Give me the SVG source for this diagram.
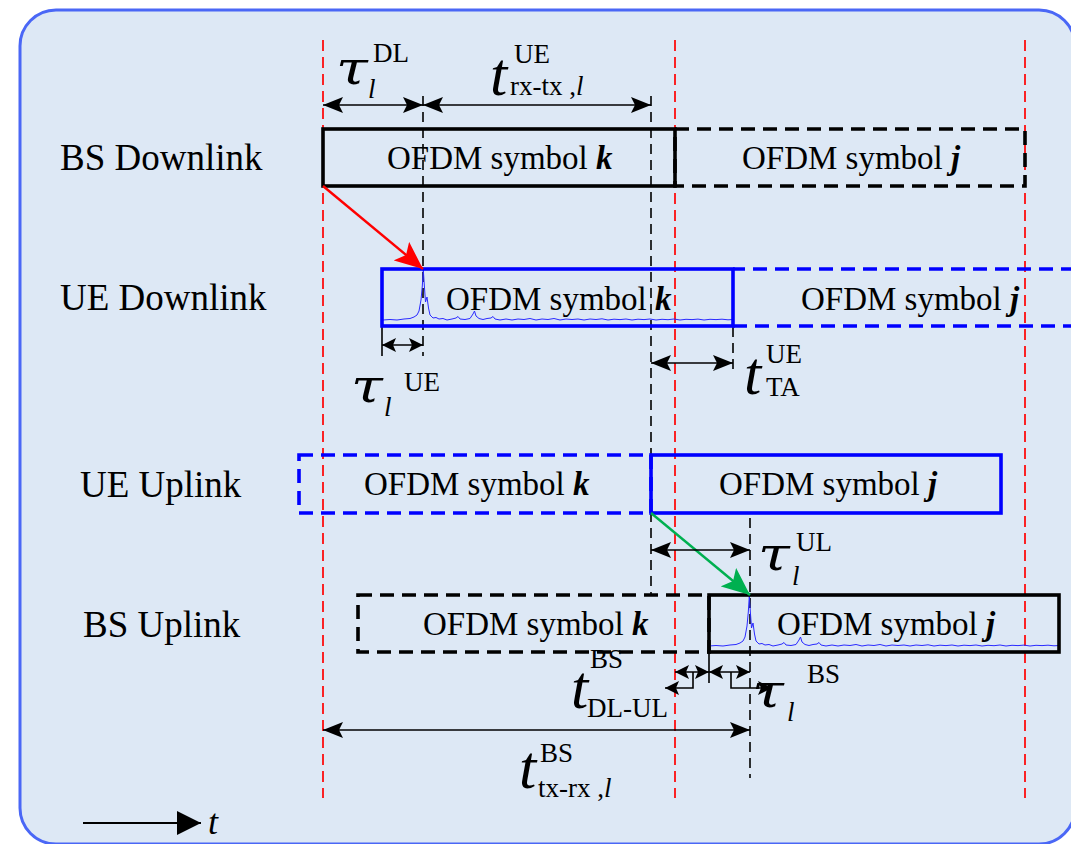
<svg xmlns="http://www.w3.org/2000/svg" width="1071" height="844" viewBox="0 0 1071 844">
<style>
.lbl{font-family:"Liberation Serif","Times New Roman",serif;font-size:37px;fill:#000}
.sym{font-family:"Liberation Serif","Times New Roman",serif;font-size:33px;fill:#000}
.bi{font-weight:bold;font-style:italic}
.m{font-family:"Liberation Serif","Times New Roman",serif;fill:#000}
.it{font-style:italic}
.big{font-size:62px;font-style:italic}
.tau{font-family:"DejaVu Serif","Liberation Serif",serif;font-size:46px;font-style:italic}
.ss{font-size:27px}
.red{stroke:#ff0000;stroke-width:1.7;stroke-dasharray:11 6;fill:none}
.kd{stroke:#000;stroke-width:1.6;stroke-dasharray:10 6;fill:none}
.box{fill:none;stroke:#000;stroke-width:3.6}
.boxd{fill:none;stroke:#000;stroke-width:3.6;stroke-dasharray:14 8}
.bbox{fill:none;stroke:#0000ff;stroke-width:3.6}
.bboxd{fill:none;stroke:#0000ff;stroke-width:3.6;stroke-dasharray:14 8}
.dim{stroke:#000;stroke-width:1.6;fill:none;marker-start:url(#ah);marker-end:url(#ah)}
.dims{stroke:#000;stroke-width:1.6;fill:none;marker-start:url(#ahs);marker-end:url(#ahs)}
.tick{stroke:#000;stroke-width:1.6;fill:none}
.wave{fill:none;stroke:#2a2aff;stroke-width:1}
</style>
<defs>
<marker id="ah" markerUnits="userSpaceOnUse" viewBox="0 -8 20 16" refX="20" refY="0" markerWidth="20" markerHeight="16" orient="auto-start-reverse"><path d="M0,-8 L20,0 L0,8 L4,0 z" fill="#000"/></marker>
<marker id="ahs" markerUnits="userSpaceOnUse" viewBox="0 -7 14 14" refX="14" refY="0" markerWidth="14" markerHeight="14" orient="auto-start-reverse"><path d="M0,-7 L14,0 L0,7 L3,0 z" fill="#000"/></marker>
<marker id="ahr" markerUnits="userSpaceOnUse" viewBox="0 -12 28 24" refX="28" refY="0" markerWidth="28" markerHeight="24" orient="auto"><path d="M0,-12 L28,0 L0,12 L6,0 z" fill="#ff0000"/></marker>
<marker id="ahg" markerUnits="userSpaceOnUse" viewBox="0 -12 28 24" refX="28" refY="0" markerWidth="28" markerHeight="24" orient="auto"><path d="M0,-12 L28,0 L0,12 L6,0 z" fill="#00b050"/></marker>
<marker id="aht" markerUnits="userSpaceOnUse" viewBox="0 -12 24 24" refX="24" refY="0" markerWidth="24" markerHeight="24" orient="auto"><path d="M0,-12 L24,0 L0,12 z" fill="#000"/></marker>
<path id="wv" class="wave" d="M383,320 L390,319.5 L397,320 L404,319 L410,318.5 L414,317 L417,315 L419,311 L421,300 L422.3,286 L423.3,270 L424.5,288 L425.5,302 L427,297 L428.5,308 L430,315 L433,318 L436,317.5 L439,319 L443,318.5 L447,320 L452,319 L456,318 L458,316.5 L460,319 L465,319.5 L470,318.5 L473,314 L474.5,311 L476,316 L479,318.5 L483,319.5 L487,318.5 L491,318 L493,316.5 L495,319 L500,320 L506,319 L512,320 L518,319 L524,319.5 L530,318.5 L536,320 L542,319 L548,319.5 L554,318.5 L560,320 L566,319 L572,319.5 L578,319 L584,320 L590,319 L596,319.5 L602,318.8 L608,320 L614,319.2 L620,319.6 L626,319 L632,320 L638,319.2 L644,319.6 L650,319 L656,320 L662,319.3 L668,319.7 L674,319 L680,320 L686,319.3 L692,319.6 L698,319.1 L704,320 L710,319.3 L716,319.6 L722,319.2 L728,319.8 L733,319.5"/>
</defs>

<rect x="20" y="10" width="1055" height="834" rx="36" ry="36" fill="#dde8f5" stroke="#4a67f6" stroke-width="3"/>

<g id="guides">
<line class="red" x1="323" y1="40" x2="323" y2="798"/>
<line class="red" x1="675" y1="40" x2="675" y2="798"/>
<line class="red" x1="1025" y1="40" x2="1025" y2="798"/>
<line class="kd" x1="423" y1="96" x2="423" y2="356"/>
<line class="kd" x1="651" y1="96" x2="651" y2="595"/>
<line class="kd" x1="733" y1="327" x2="733" y2="372"/>
<line class="kd" x1="750" y1="518" x2="750" y2="778"/>
<line class="tick" x1="382" y1="327" x2="382" y2="356"/>
<line class="tick" x1="709" y1="652" x2="709" y2="683"/>
</g>

<g id="bs-downlink">
<text class="lbl" x="60" y="170">BS Downlink</text>
<rect class="box" x="323" y="129" width="352" height="57"/>
<text class="sym" x="387" y="169">OFDM symbol <tspan class="bi">k</tspan></text>
<rect class="boxd" x="675" y="129" width="350" height="57"/>
<text class="sym" x="742" y="169">OFDM symbol <tspan class="bi">j</tspan></text>
</g>

<g id="ue-downlink">
<text class="lbl" x="60" y="310">UE Downlink</text>
<use href="#wv"/>
<rect class="bbox" x="382" y="269" width="351" height="57"/>
<text class="sym" x="446" y="310">OFDM symbol <tspan class="bi">k</tspan></text>
<path class="bboxd" d="M1075,269 L733,269 M733,326 L1075,326"/>
<text class="sym" x="801" y="310">OFDM symbol <tspan class="bi">j</tspan></text>
</g>

<g id="ue-uplink">
<text class="lbl" x="80" y="497">UE Uplink</text>
<rect class="bboxd" x="299" y="455" width="352" height="58"/>
<text class="sym" x="364" y="495">OFDM symbol <tspan class="bi">k</tspan></text>
<rect class="bbox" x="651" y="455" width="350" height="58"/>
<text class="sym" x="719" y="495">OFDM symbol <tspan class="bi">j</tspan></text>
</g>

<g id="bs-uplink">
<text class="lbl" x="83" y="637">BS Uplink</text>
<rect class="boxd" x="358" y="595" width="351" height="57"/>
<text class="sym" x="423" y="635">OFDM symbol <tspan class="bi">k</tspan></text>
<use href="#wv" transform="translate(326,326)"/>
<rect class="box" x="709" y="595" width="350" height="57"/>
<text class="sym" x="777" y="635">OFDM symbol <tspan class="bi">j</tspan></text>
</g>

<g id="connectors">
<line x1="323" y1="186" x2="423" y2="269" stroke="#ff0000" stroke-width="2.4" marker-end="url(#ahr)"/>
<line x1="651" y1="513" x2="750" y2="595" stroke="#00b050" stroke-width="2.4" marker-end="url(#ahg)"/>
<line class="dim" x1="323" y1="105" x2="423" y2="105"/>
<line class="dim" x1="423" y1="105" x2="651" y2="105"/>
<line class="dims" x1="382" y1="345" x2="423" y2="345"/>
<line class="dim" x1="651" y1="363" x2="733" y2="363"/>
<line class="dim" x1="651" y1="550" x2="750" y2="550"/>
<line class="dims" x1="675" y1="672" x2="709" y2="672"/>
<line class="dims" x1="709" y1="672" x2="750" y2="672"/>
<path d="M693,672 L693,688 L665,688" stroke="#000" stroke-width="1.6" fill="none" marker-end="url(#ahs)"/>
<path d="M731,672 L731,688 L772,688" stroke="#000" stroke-width="1.6" fill="none" marker-end="url(#ahs)"/>
<line class="dim" x1="323" y1="730" x2="750" y2="730"/>
<line x1="83" y1="823" x2="201" y2="823" stroke="#000" stroke-width="2" marker-end="url(#aht)"/>
</g>

<g id="labels">
<text class="m tau" transform="translate(336,84) scale(1.25,1)">τ</text>
<text class="m it ss" x="368" y="98">l</text>
<text class="m ss" x="373" y="62">DL</text>

<text class="m big" x="490" y="95">t</text>
<text class="m ss" x="514" y="63">UE</text>
<text class="m ss" x="510" y="95">rx-tx<tspan> ,</tspan><tspan class="it">l</tspan></text>

<text class="m tau" transform="translate(351,402) scale(1.25,1)">τ</text>
<text class="m it ss" x="384" y="416">l</text>
<text class="m ss" x="404" y="391">UE</text>

<text class="m tau" transform="translate(758,570) scale(1.25,1)">τ</text>
<text class="m it ss" x="792" y="585">l</text>
<text class="m ss" x="796" y="551">UL</text>

<text class="m big" x="744" y="394">t</text>
<text class="m ss" x="766" y="363">UE</text>
<text class="m ss" x="766" y="396">TA</text>

<text class="m big" x="571" y="708">t</text>
<text class="m ss" x="590" y="668">BS</text>
<text class="m ss" x="587" y="717">DL-UL</text>

<text class="m tau" transform="translate(752,707) scale(1.25,1)">τ</text>
<text class="m it ss" x="787" y="721">l</text>
<text class="m ss" x="807" y="683">BS</text>

<text class="m big" x="519" y="788">t</text>
<text class="m ss" x="540" y="762">BS</text>
<text class="m ss" x="538" y="797">tx-rx<tspan> ,</tspan><tspan class="it">l</tspan></text>

<text class="m it" x="208" y="834" font-size="36">t</text>
</g>
</svg>
